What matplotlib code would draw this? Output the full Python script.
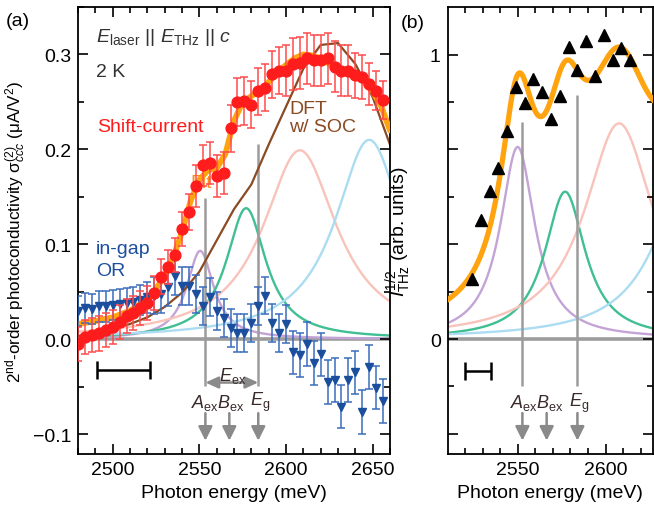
import numpy as np
import matplotlib
matplotlib.use('Agg')
import matplotlib.pyplot as plt
from matplotlib.ticker import MultipleLocator, FixedLocator, FixedFormatter

plt.rcParams['font.family'] = ['Liberation Sans', 'DejaVu Sans']
plt.rcParams['mathtext.fontset'] = 'custom'
plt.rcParams['mathtext.rm'] = 'Liberation Sans'
plt.rcParams['mathtext.it'] = 'Liberation Sans:italic'
plt.rcParams['mathtext.bf'] = 'Liberation Sans:bold'
plt.rcParams['font.size'] = 14

# ---------------- data: panel (a) ----------------
energy_a = [2480, 2484, 2488, 2492, 2496, 2500, 2504, 2508, 2512, 2516, 2520, 2524,
            2528, 2532, 2536, 2540, 2544, 2548, 2552, 2556, 2560, 2564, 2568, 2572,
            2576, 2580, 2584, 2588, 2592, 2596, 2600, 2604, 2608, 2612, 2616, 2620,
            2624, 2628, 2632, 2636, 2640, 2644, 2648, 2652, 2656]
shift_current = [-0.005, 0.002, 0.004, 0.006, 0.010, 0.013, 0.018, 0.024, 0.028, 0.033,
                 0.038, 0.049, 0.066, 0.076, 0.089, 0.116, 0.134, 0.161, 0.183, 0.186,
                 0.172, 0.175, 0.222, 0.250, 0.251, 0.247, 0.261, 0.265, 0.279, 0.283,
                 0.283, 0.290, 0.291, 0.296, 0.294, 0.294, 0.296, 0.287, 0.283, 0.283,
                 0.278, 0.276, 0.269, 0.262, 0.252]
shift_err = [0.018] * 16 + [0.019] + [0.022] * 5 + [0.025] * 8 + [0.027] * 10 + \
            [0.024, 0.023, 0.022, 0.021, 0.020]
or_signal = [0.030, 0.033, 0.032, 0.0345, 0.0345, 0.036, 0.037, 0.038, 0.039, 0.041,
             0.044, 0.046, 0.0475, 0.0545, 0.067, 0.056, 0.056, 0.0475, 0.035, 0.0446,
             0.030, 0.022, 0.012, 0.006, 0.006, 0.017, 0.035, 0.046, 0.017, 0.0063,
             0.016, -0.014, -0.017, -0.005, -0.025, -0.016, -0.045, -0.043, -0.071,
             -0.043, -0.035, -0.077, -0.029, -0.051, -0.065]
or_err = [0.016] * 11 + [0.020] * 20 + [0.023] * 14

fit_a_energy = [2480, 2490, 2500, 2510, 2520, 2525, 2530, 2535, 2540, 2545, 2550, 2555,
                2560, 2565, 2570, 2575, 2580, 2585, 2590, 2595, 2600, 2605, 2610, 2615,
                2620, 2625, 2630, 2635, 2640, 2645, 2650, 2655, 2660]
fit_a_values = [0.016, 0.019, 0.023, 0.030, 0.042, 0.053, 0.067, 0.087, 0.113, 0.146,
                0.168, 0.178, 0.180, 0.195, 0.230, 0.250, 0.256, 0.262, 0.271, 0.281,
                0.289, 0.296, 0.300, 0.299, 0.296, 0.290, 0.284, 0.280, 0.277, 0.271,
                0.261, 0.245, 0.220]

dft_energy = [2480, 2490, 2500, 2510, 2520, 2530, 2540, 2550, 2560, 2570, 2580, 2590,
              2600, 2610, 2620, 2630, 2640, 2650, 2660]
dft_values = [0.003, 0.007, 0.011, 0.016, 0.023, 0.034, 0.049, 0.071, 0.104, 0.137,
              0.163, 0.205, 0.245, 0.285, 0.310, 0.312, 0.290, 0.255, 0.205]

# Lorentzian components (centre meV, height, half width meV)
comp_colors = ['#c4a4d6', '#3fbf92', '#f8c3ba', '#abdcf2']
comp_a_center = [2550.5, 2577.0, 2608.0, 2648.0]
comp_a_height = [0.093, 0.138, 0.199, 0.210]
comp_a_width = [9.5, 14.0, 26.0, 24.0]

# ---------------- data: panel (b) ----------------
energy_b = [2524, 2529, 2534, 2539, 2544, 2549, 2554, 2559, 2564, 2569, 2574, 2579,
            2584, 2589, 2594, 2599, 2604, 2609, 2614]
thz_sqrt = [0.21, 0.42, 0.52, 0.60, 0.73, 0.885, 0.83, 0.915, 0.87, 0.775, 0.855, 1.027,
            0.947, 1.047, 0.924, 1.07, 0.982, 1.023, 0.982]
comp_b_center = [2550.0, 2577.0, 2607.7, 2648.0]
comp_b_height = [0.675, 0.518, 0.758, 0.577]
comp_b_width = [12.0, 14.0, 24.0, 24.0]

# feature energies
feat_energy = [2553.5, 2567.3, 2584.0]
feat_labels = [r'$A_{\mathrm{ex}}$', r'$B_{\mathrm{ex}}$', r'$E_{\mathrm{g}}$']


def lorentz(x, x0, h, g):
    return h * g ** 2 / ((x - x0) ** 2 + g ** 2)


W, H = 654, 510
fig = plt.figure(figsize=(W / 100, H / 100), dpi=100)


def fxy(px, py):
    return px / W, 1 - py / H


axa = fig.add_axes([78 / W, 1 - 455 / H, 312 / W, 447 / H])
axb = fig.add_axes([447.7 / W, 1 - 455 / H, 205.3 / W, 447 / H])

GREY = '#9c9c9c'
ARROW = '#8a8a8a'
ORANGE = '#ffa30f'
BROWN = '#8a4a22'
RED = '#ff1c1c'
BLUE = '#1b4f9e'
TXT = '#3a2a2a'

# ---------------- panel (a) ----------------
xa = np.linspace(2480, 2660, 800)
for c, h, g, col in zip(comp_a_center, comp_a_height, comp_a_width, comp_colors):
    axa.plot(xa, lorentz(xa, c, h, g), color=col, lw=1.7, zorder=1)
axa.axhline(0, color=GREY, lw=2.6, zorder=0.8)
axa.vlines(feat_energy[0], -0.049, 0.149, color=GREY, lw=1.8, zorder=1.5)
axa.vlines(feat_energy[2], -0.049, 0.206, color=GREY, lw=1.8, zorder=1.5)
axa.plot(dft_energy, dft_values, color=BROWN, lw=1.6, zorder=2)
axa.plot(fit_a_energy, fit_a_values, color=ORANGE, lw=4.2, zorder=3,
         solid_capstyle='round', solid_joinstyle='round')
axa.errorbar(energy_a, or_signal, yerr=or_err, fmt='v', color=BLUE, ms=6.2,
             ecolor='#3a6cbc', elinewidth=1.1, capsize=2.6, capthick=1.1, zorder=4)
axa.text(2545.0, 0.165, 'Fit', color='#ff8c1a', fontsize=14, ha='left', va='center',
         zorder=4.5)
axa.errorbar(energy_a, shift_current, yerr=shift_err, fmt='o', color=RED, ms=7.8,
             ecolor='#ff4a4a', elinewidth=1.1, capsize=2.6, capthick=1.1, zorder=5)

# energy difference arrow and feature arrows
axa.annotate('', xy=(feat_energy[2], -0.0457), xytext=(feat_energy[0], -0.0457),
             arrowprops=dict(arrowstyle='<|-|>,head_length=0.55,head_width=0.25',
                             color=ARROW, lw=1.8, shrinkA=0, shrinkB=0))
axa.text(2569, -0.0375, r'$E_{\mathrm{ex}}$', color=TXT, ha='center', va='center', fontsize=13)
for e, lab in zip(feat_energy, feat_labels):
    axa.annotate('', xy=(e, -0.107), xytext=(e, -0.078),
                 arrowprops=dict(arrowstyle='-|>,head_length=0.6,head_width=0.3',
                                 color=ARROW, lw=1.8, shrinkA=0, shrinkB=0))
axa.text(feat_energy[0] - 0.2, -0.066, feat_labels[0], color=TXT, ha='center', va='center', fontsize=13)
axa.text(feat_energy[1] + 0.6, -0.066, feat_labels[1], color=TXT, ha='center', va='center', fontsize=13)
axa.text(feat_energy[2] + 1.2, -0.066, feat_labels[2], color=TXT, ha='center', va='center', fontsize=13)

# resolution bar
axa.errorbar([2506.3], [-0.033], xerr=[15.3], fmt='none', ecolor='k',
             elinewidth=1.8, capsize=6.5, capthick=1.8)

axa.set_xlim(2480, 2660)
axa.set_ylim(-0.121, 0.350)
axa.xaxis.set_major_locator(MultipleLocator(50))
axa.xaxis.set_minor_locator(MultipleLocator(10))
axa.yaxis.set_major_locator(MultipleLocator(0.1))
axa.yaxis.set_minor_locator(MultipleLocator(0.05))
axa.set_xlabel('Photon energy (meV)', fontsize=14)
axa.set_ylabel(r'2$^{\mathrm{nd}}$-order photoconductivity $\mathrm{σ}^{(2)}_{ccc}$ (μA/V$^{2}$)',
               fontsize=12.3)
axa.yaxis.set_label_coords(-0.16, 0.5)

# ---------------- panel (b) ----------------
xb = np.linspace(2505, 2630, 800)
total_b = np.zeros_like(xb)
for c, h, g, col in zip(comp_b_center, comp_b_height, comp_b_width, comp_colors):
    yb = lorentz(xb, c, h, g)
    total_b += yb
    axb.plot(xb, yb, color=col, lw=1.7, zorder=1)
axb.axhline(0, color=GREY, lw=2.6, zorder=0.8)
axb.vlines(feat_energy[0] - 0.8, -0.164, 0.763, color=GREY, lw=1.8, zorder=1.5)
axb.vlines(feat_energy[2], -0.164, 0.856, color=GREY, lw=1.8, zorder=1.5)
axb.plot(xb, total_b, color=ORANGE, lw=3.8, zorder=3)
axb.plot(energy_b, thz_sqrt, '^', color='k', ms=8.2, zorder=4, linestyle='none')
b_arrow_x = [feat_energy[0] - 0.8, feat_energy[1] - 0.8, feat_energy[2]]
for ee in b_arrow_x:
    axb.annotate('', xy=(ee, -0.357), xytext=(ee, -0.26),
                 arrowprops=dict(arrowstyle='-|>,head_length=0.6,head_width=0.3',
                                 color=ARROW, lw=1.8, shrinkA=0, shrinkB=0))
axb.text(b_arrow_x[0] + 1.0, -0.221, feat_labels[0], color=TXT, ha='center', va='center', fontsize=13)
axb.text(b_arrow_x[1] + 1.8, -0.221, feat_labels[1], color=TXT, ha='center', va='center', fontsize=13)
axb.text(b_arrow_x[2] + 1.2, -0.221, feat_labels[2], color=TXT, ha='center', va='center', fontsize=13)
axb.errorbar([2527.5], [-0.111], xerr=[7.5], fmt='none', ecolor='k',
             elinewidth=1.8, capsize=6.5, capthick=1.8)

axb.set_xlim(2510.2, 2627)
axb.set_ylim(-0.404, 1.167)
axb.xaxis.set_major_locator(MultipleLocator(50))
axb.xaxis.set_minor_locator(MultipleLocator(10))
axb.yaxis.set_major_locator(FixedLocator([-1 / 3, 0, 1 / 3, 2 / 3, 1]))
axb.yaxis.set_major_formatter(FixedFormatter(['', '0', '', '', '1']))
axb.yaxis.set_minor_locator(FixedLocator([-1 / 6, 1 / 6, 0.5, 5 / 6]))
axb.set_xlabel('Photon energy (meV)', fontsize=14)
axb.set_ylabel(r'$I_{\mathrm{THz}}^{1/2}$ (arb. units)', fontsize=14)
axb.yaxis.set_label_coords(-0.17, 0.5)

for ax in (axa, axb):
    ax.tick_params(which='both', direction='in', top=True, right=True, labelsize=14,
                   width=1.2, colors='k')
    ax.tick_params(which='major', length=7.2, pad=5)
    ax.tick_params(which='minor', length=4.0)
    for s in ax.spines.values():
        s.set_linewidth(1.3)

# ---------------- annotations ----------------
fig.text(*fxy(6, 22), '(a)', fontsize=14, ha='left', va='center')
fig.text(*fxy(401, 23), '(b)', fontsize=14, ha='left', va='center')
fig.text(*fxy(96, 38), r'$E_{\mathrm{laser}}$ || $E_{\mathrm{THz}}$ || $c$', fontsize=14,
         ha='left', va='center', color='#333333')
fig.text(*fxy(96, 73), '2 K', fontsize=14, ha='left', va='center', color='#333333')
fig.text(*fxy(97, 127), 'Shift-current', fontsize=14, ha='left', va='center', color=RED)
fig.text(*fxy(96, 250), 'in-gap', fontsize=14, ha='left', va='center', color=BLUE)
fig.text(*fxy(96, 271), 'OR', fontsize=14, ha='left', va='center', color=BLUE)
fig.text(*fxy(289, 110), 'DFT', fontsize=14, ha='left', va='center', color=BROWN)
fig.text(*fxy(289, 128), 'w/ SOC', fontsize=14, ha='left', va='center', color=BROWN)

fig.savefig('out.png', dpi=100)
